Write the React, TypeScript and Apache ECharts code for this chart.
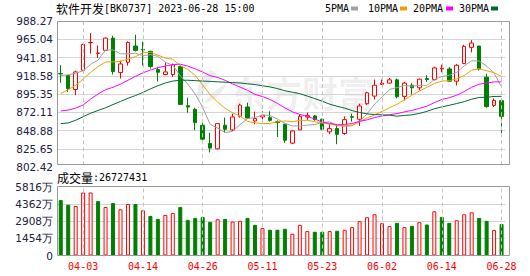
import React, { useEffect, useRef } from 'react';
import * as echarts from 'echarts';

const boardName = '软件开发';
const boardCode = '[BK0737]';
const stamp = '2023-06-28 15:00';

const dates = ['03-29','03-30','03-31','04-03','04-04','04-06','04-07','04-10','04-11','04-12','04-13','04-14','04-17','04-18','04-19','04-20','04-21','04-24','04-25','04-26','04-27','04-28','05-04','05-05','05-08','05-09','05-10','05-11','05-12','05-15','05-16','05-17','05-18','05-19','05-22','05-23','05-24','05-25','05-26','05-29','05-30','05-31','06-01','06-02','06-05','06-06','06-07','06-08','06-09','06-12','06-13','06-14','06-15','06-16','06-19','06-20','06-21','06-26','06-27','06-28'];

const opens = [921.6, 919.0, 901.2, 925.7, 960.8, 947.3, 951.1, 966.7, 922.8, 935.9,
  956.6, 952.3, 949.8, 926.6, 920.3, 920.3, 930.4, 880.6, 875.9, 855.6,
  832.4, 825.6, 855.6, 849.7, 867.0, 878.9, 861.1, 866.2, 865.3, 860.2,
  856.9, 832.8, 849.7, 866.2, 867.5, 863.3, 847.2, 851.4, 845.1, 866.6,
  863.3, 883.1, 892.8, 907.6, 909.3, 913.5, 892.4, 906.7, 903.4, 915.2,
  913.9, 927.4, 927.4, 911.8, 934.2, 954.9, 956.6, 916.9, 881.0, 887.0];
const closes = [921.1, 902.5, 923.6, 958.7, 961.2, 947.7, 966.7, 924.1, 933.8, 961.2,
  951.1, 951.6, 930.4, 923.2, 923.6, 932.9, 882.2, 878.9, 859.0, 837.9,
  826.5, 857.7, 850.5, 866.2, 881.4, 864.8, 864.3, 868.3, 861.9, 859.0,
  836.6, 848.4, 867.0, 867.9, 862.8, 850.5, 851.4, 844.2, 862.8, 865.8,
  880.2, 897.0, 906.7, 909.3, 913.5, 892.0, 909.3, 903.4, 914.3, 913.9,
  928.7, 928.3, 911.8, 932.1, 956.2, 960.4, 927.4, 879.3, 887.4, 867.0];
const lows = [909.7, 898.3, 894.0, 925.0, 946.9, 941.4, 950.8, 920.3, 915.2, 931.7,
  949.8, 931.7, 927.9, 911.5, 919.4, 917.3, 881.5, 871.7, 849.3, 832.4,
  821.0, 825.0, 846.3, 848.4, 865.3, 864.1, 856.9, 861.1, 860.2, 840.7,
  833.2, 831.5, 849.3, 862.4, 861.5, 849.3, 844.2, 831.5, 843.4, 860.2,
  854.8, 881.4, 888.5, 907.0, 909.0, 889.8, 887.2, 894.9, 900.0, 911.0,
  912.7, 923.2, 911.5, 906.3, 934.0, 948.5, 925.3, 878.0, 878.9, 845.9];
const highs = [932.1, 919.5, 925.3, 959.5, 973.1, 957.4, 967.5, 969.7, 938.0, 962.5,
  971.0, 962.3, 950.7, 929.6, 935.9, 934.2, 931.7, 890.7, 878.0, 860.3,
  845.9, 858.0, 865.3, 870.4, 883.1, 884.4, 873.0, 873.4, 873.4, 861.9,
  857.7, 849.3, 869.6, 871.7, 868.7, 864.1, 856.9, 856.9, 867.0, 870.4,
  883.1, 898.3, 913.9, 913.9, 916.0, 915.2, 911.0, 909.3, 915.2, 919.4,
  930.4, 932.9, 930.0, 933.8, 958.3, 964.2, 956.8, 921.1, 889.9, 887.2];

const ma5 = [919.0, 920.0, 922.0, 925.0, 933.4, 938.7, 951.6, 951.7, 946.7, 946.7,
  947.4, 944.3, 945.6, 943.5, 935.9, 932.2, 918.5, 908.2, 895.3, 878.2,
  856.9, 852.0, 846.3, 847.8, 856.5, 864.2, 865.4, 868.9, 868.0, 863.6,
  858.1, 854.8, 854.6, 855.8, 856.5, 859.3, 859.9, 855.4, 854.3, 854.9,
  860.9, 870.0, 882.5, 891.8, 901.3, 903.7, 906.2, 905.5, 906.5, 906.6,
  913.9, 917.7, 919.4, 923.0, 931.4, 937.8, 937.6, 931.1, 922.1, 904.3];
const ma10 = [896.0, 901.0, 906.5, 914.5, 923.0, 930.5, 936.3, 936.5, 937.0, 940.1,
  943.1, 948.0, 948.6, 945.1, 941.3, 939.8, 931.4, 926.8, 919.4, 907.0,
  894.6, 885.2, 877.2, 871.5, 867.3, 860.5, 858.7, 857.7, 857.9, 860.1,
  861.1, 860.1, 861.8, 862.0, 860.1, 858.7, 857.4, 855.0, 855.1, 855.7,
  860.1, 865.0, 868.9, 873.1, 878.1, 882.3, 888.1, 894.0, 899.2, 904.0,
  908.8, 911.9, 912.5, 914.7, 919.0, 925.8, 927.7, 925.2, 922.6, 917.9];
const ma20 = [873.8, 875.0, 877.5, 881.5, 889.0, 895.5, 901.0, 904.0, 908.0, 913.0,
  918.0, 922.5, 926.0, 929.0, 931.0, 933.0, 933.5, 931.0, 927.5, 923.5,
  918.8, 916.6, 912.9, 908.3, 904.3, 900.1, 895.0, 892.2, 888.6, 883.5,
  877.8, 872.7, 869.5, 866.7, 863.7, 859.6, 858.0, 856.3, 856.5, 857.9,
  860.6, 862.5, 865.4, 867.5, 869.1, 870.5, 872.7, 874.5, 877.1, 879.9,
  884.5, 888.5, 890.7, 893.9, 898.6, 904.1, 907.9, 909.6, 910.9, 910.9];
const ma30 = [857.7, 858.6, 862.0, 866.5, 871.0, 874.5, 878.0, 882.0, 886.0, 890.0,
  893.5, 897.5, 902.0, 906.0, 909.5, 912.0, 913.0, 913.0, 912.5, 912.0,
  911.5, 911.0, 910.5, 910.0, 909.5, 908.5, 907.5, 906.0, 904.5, 902.4,
  899.6, 897.8, 895.9, 892.8, 889.6, 886.3, 882.5, 879.8, 877.5, 874.3,
  871.9, 870.1, 869.3, 868.9, 868.5, 867.2, 868.1, 868.9, 870.7, 873.3,
  876.7, 879.0, 881.1, 883.3, 885.7, 888.9, 891.0, 891.4, 892.3, 892.5];

const volumes = [47040000, 43120000, 42000000, 53480000, 53480000, 46200000, 41160000, 44520000, 39200000, 43680000,
  43680000, 38360000, 33600000, 31080000, 34440000, 36120000, 41160000, 30240000, 31920000, 32760000,
  28560000, 30800000, 31080000, 28840000, 29400000, 31920000, 26040000, 23240000, 21840000, 21840000,
  22680000, 18480000, 26040000, 20720000, 20160000, 20160000, 20720000, 21000000, 21840000, 24080000,
  29120000, 32480000, 35000000, 27440000, 24920000, 27720000, 24080000, 25200000, 28280000, 26320000,
  37520000, 32760000, 27720000, 29960000, 35000000, 36680000, 31920000, 29400000, 21560000, 26727431];

const priceTickLabels = ['802.42', '825.65', '848.88', '872.11', '895.35', '918.58', '941.81', '965.04', '988.27'];
const volumeMax = 58160000;
const maNames = ['5PMA', '10PMA', '20PMA', '30PMA'];
const labelIdx = [3, 11, 19, 27, 35, 43, 51, 59];

const MONO = '"DejaVu Sans Mono", monospace';
const CJK = '"Noto Sans CJK SC", sans-serif';
const NUM = '"DejaVu Sans", sans-serif';
const RED = '#ff0000';
const GREEN = '#008000';
const maColors = ['#a0a0a0', '#f0a000', '#ff00ff', '#006a32'];
const LABEL = '#202040';
const GRID_LINE = '#d4d4d4';
const DASH = '#c4c4c4';
const FRAME = '#9a9a9a';
const WATERMARK = 'rgba(0,0,0,0.075)';

const LOGO_D = 'M22,0 C8,8 0,22 6,38 C10,26 16,16 30,6 Z M12,40 C20,30 28,22 40,16 C36,28 26,36 12,40 Z M2,44 C8,42 14,42 20,44 C14,46 8,46 2,44 Z';
let logoRegistered = false;
function ensureLogo() {
  if (logoRegistered) return;
  echarts.graphic.registerShape('wmlogo', echarts.graphic.extendPath(LOGO_D, {}) as any);
  logoRegistered = true;
}

function buildOption() {
  const priceTicks = priceTickLabels.map(Number);
  const pMin = priceTicks[0];
  const pMax = priceTicks[priceTicks.length - 1];
  const frameLow = 805.1;
  const candleData = dates.map((_, i) => [opens[i], closes[i], lows[i], highs[i]]);
  const volData = volumes.map((v, i) => {
    const up = i === 0 ? closes[i] >= opens[i] : closes[i] >= closes[i - 1];
    return {
      value: v,
      itemStyle: up
        ? { color: '#ffffff', borderColor: RED, borderWidth: 1 }
        : { color: GREEN, borderColor: GREEN, borderWidth: 1 },
    };
  });
  const mas = [ma5, ma10, ma20, ma30];

  const legendTextX = [325, 368, 413, 459];
  const legendRectX = [351, 400, 446, 491];
  const legendGraphics: any[] = [];
  maNames.forEach((n, k) => {
    legendGraphics.push({
      type: 'text', x: legendTextX[k], y: 8,
      style: { text: n, fontFamily: MONO, fontSize: 10, fill: '#000', align: 'left', verticalAlign: 'middle' },
    });
    legendGraphics.push({
      type: 'rect', shape: { x: legendRectX[k], y: 6.5, width: 7, height: 4 },
      style: { fill: maColors[k] },
    });
  });

  return {
    animation: false,
    backgroundColor: '#ffffff',
    grid: [
      { left: 57, right: 24.7, top: 21.2, height: 145.8 },
      { left: 57, right: 24.7, top: 187, height: 68.5 },
    ],
    xAxis: [
      {
        type: 'category', gridIndex: 0, data: dates, boundaryGap: true,
        axisLine: { show: false }, axisTick: { show: false }, axisLabel: { show: false }, splitLine: { show: false },
      },
      {
        type: 'category', gridIndex: 1, data: dates, boundaryGap: true,
        axisLine: { show: false }, axisTick: { show: false }, splitLine: { show: false },
        axisLabel: {
          interval: (i: number) => labelIdx.includes(i),
          color: RED, fontFamily: MONO, fontSize: 10, margin: 6,
        },
      },
    ],
    yAxis: [
      {
        type: 'value', gridIndex: 0, min: pMin, max: pMax,
        axisLine: { show: false },
        axisTick: { show: false, customValues: priceTicks },
        axisLabel: {
          customValues: priceTicks,
          formatter: (v: number) => v.toFixed(2),
          color: LABEL, fontFamily: NUM, fontSize: 10.5, margin: 4,
        },
        splitLine: { show: true, showMinLine: false, showMaxLine: false, lineStyle: { color: GRID_LINE, width: 1 } },
      },
      {
        type: 'value', gridIndex: 1, min: 0, max: volumeMax, interval: volumeMax / 4,
        axisLine: { show: false }, axisTick: { show: false },
        axisLabel: {
          formatter: (v: number) => (v === 0 ? '0' : Math.round(v / 10000) + '万'),
          color: LABEL, fontFamily: NUM, fontSize: 10.5, margin: 4,
        },
        splitLine: { show: true, showMinLine: false, showMaxLine: false, lineStyle: { color: GRID_LINE, width: 1 } },
      },
    ],
    graphic: [
      {
        type: 'wmlogo', x: 194, y: 70, scaleX: 0.8, scaleY: 0.85, z: 0,
        style: { fill: WATERMARK },
      },
      {
        type: 'text', x: 230, y: 92, z: 0,
        style: {
          text: '东方财富', fontFamily: CJK, fontSize: 36, fontWeight: 'bold',
          fill: WATERMARK, align: 'left', verticalAlign: 'middle',
        },
      },
      {
        type: 'text', x: 56, y: 8,
        style: {
          text: '{c|' + boardName + '}{m|' + boardCode + ' ' + stamp + '}',
          verticalAlign: 'middle', align: 'left',
          rich: {
            c: { fontFamily: CJK, fontSize: 12, fill: '#000' },
            m: { fontFamily: MONO, fontSize: 10, fill: '#000' },
          },
        },
      },
      {
        type: 'text', x: 57, y: 177,
        style: {
          text: '{c|成交量}{m|:' + volumes[volumes.length - 1] + '}',
          verticalAlign: 'middle', align: 'left',
          rich: {
            c: { fontFamily: CJK, fontSize: 12, fill: '#000' },
            m: { fontFamily: MONO, fontSize: 10, fill: '#000' },
          },
        },
      },
      ...legendGraphics,
      {
        type: 'rect', z: 10, shape: { x: 57.5, y: 21.5, width: 452, height: 143 },
        style: { fill: 'none', stroke: FRAME, lineWidth: 1 },
      },
      {
        type: 'rect', z: 10, shape: { x: 57.5, y: 186.5, width: 452, height: 69 },
        style: { fill: 'none', stroke: FRAME, lineWidth: 1 },
      },
    ],
    series: [
      {
        type: 'candlestick', name: 'K', xAxisIndex: 0, yAxisIndex: 0,
        data: candleData, barWidth: 4,
        itemStyle: { color: '#ffffff', color0: GREEN, borderColor: RED, borderColor0: GREEN, borderWidth: 1 },
        markLine: {
          silent: true, symbol: ['none', 'none'], label: { show: false },
          lineStyle: { color: DASH, type: [4, 3], width: 1 },
          data: labelIdx.map((i) => [
            { coord: [dates[i], pMax] },
            { coord: [dates[i], frameLow] },
          ]),
        },
      },
      ...mas.map((arr, k) => ({
        type: 'line', name: maNames[k], xAxisIndex: 0, yAxisIndex: 0,
        data: arr, showSymbol: false, symbol: 'none', smooth: false,
        lineStyle: { color: maColors[k], width: 1 },
        itemStyle: { color: maColors[k] },
      })),
      {
        type: 'bar', name: 'VOL', xAxisIndex: 1, yAxisIndex: 1,
        data: volData, barWidth: 4,
        markLine: {
          silent: true, symbol: ['none', 'none'], label: { show: false },
          lineStyle: { color: DASH, type: [4, 3], width: 1 },
          data: labelIdx.map((i) => ({ xAxis: dates[i] })),
        },
      },
    ],
  };
}

export default function App() {
  const ref = useRef<HTMLDivElement>(null);
  useEffect(() => {
    if (!ref.current) return;
    ensureLogo();
    const chart = echarts.init(ref.current, null, { renderer: 'svg' });
    chart.setOption(buildOption() as any);
    return () => chart.dispose();
  }, []);
  return (
    <div
      ref={ref}
      style={{ position: 'fixed', left: 0, top: 0, width: 530, height: 276, background: '#ffffff' }}
    />
  );
}
